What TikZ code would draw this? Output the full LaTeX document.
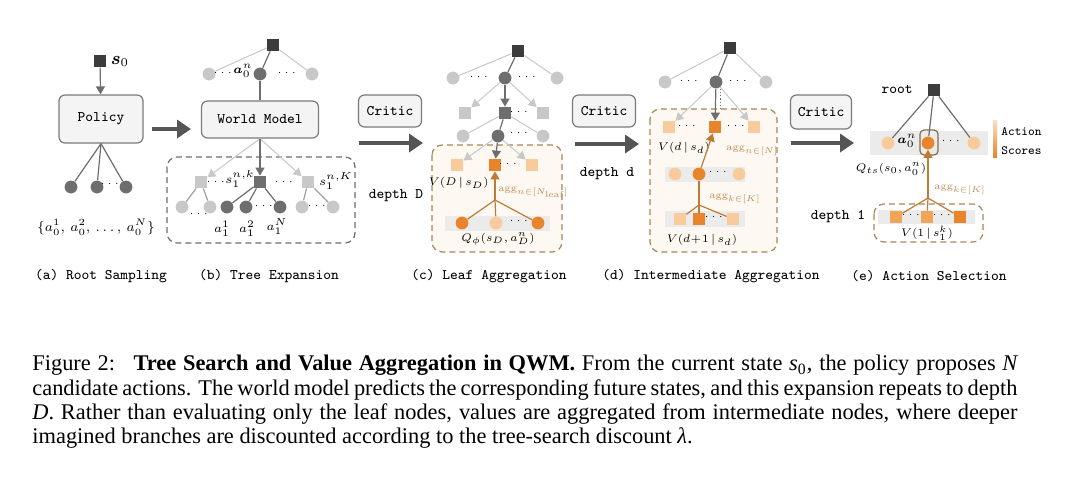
\documentclass[tikz,border=0pt]{standalone}
\usepackage{amsmath}
\usepackage{fontspec}
\newfontfamily\capfont{Liberation Serif}
\usetikzlibrary{arrows.meta,positioning}

\definecolor{dkgray}{HTML}{3C3C3C}
\definecolor{midgray}{HTML}{6E6E6E}
\definecolor{ltgray}{HTML}{C8C8C8}
\definecolor{boxfill}{HTML}{F4F4F4}
\definecolor{boxedge}{HTML}{7A7A7A}
\definecolor{bandgray}{HTML}{EBEBEB}
\definecolor{arrowgray}{HTML}{555555}
\definecolor{dkorange}{HTML}{E8842C}
\definecolor{mdorange}{HTML}{F0A458}
\definecolor{ltorange}{HTML}{F7CB9C}
\definecolor{tanline}{HTML}{A88558}
\definecolor{aggcol}{HTML}{C08A58}
\definecolor{oarrow}{HTML}{BF7A36}
\definecolor{creamfill}{HTML}{FDF9F2}

\tikzset{
  dsq/.style={rectangle, fill=dkgray, minimum size=6pt, inner sep=0pt},
  msq/.style={rectangle, fill=midgray, minimum size=6pt, inner sep=0pt},
  lsq/.style={rectangle, fill=ltgray, minimum size=6pt, inner sep=0pt},
  osq/.style={rectangle, fill=dkorange, minimum size=6pt, inner sep=0pt},
  mosq/.style={rectangle, fill=mdorange, minimum size=6pt, inner sep=0pt},
  losq/.style={rectangle, fill=ltorange, minimum size=6pt, inner sep=0pt},
  dcirc/.style={circle, fill=midgray, minimum size=6.4pt, inner sep=0pt},
  lcirc/.style={circle, fill=ltgray, minimum size=6.4pt, inner sep=0pt},
  ocirc/.style={circle, fill=dkorange, minimum size=6.4pt, inner sep=0pt},
  locirc/.style={circle, fill=ltorange, minimum size=6.4pt, inner sep=0pt},
  modbox/.style={draw=boxedge, fill=boxfill, rounded corners=3pt, line width=0.6pt,
    inner sep=0pt, font=\ttfamily\fontsize{7.3}{8.5}\selectfont},
  gline/.style={draw=midgray, line width=0.6pt},
  lline/.style={draw=ltgray, line width=0.5pt},
  garrow/.style={gline, -{Triangle[length=4pt,width=4.5pt]}},
  larrow/.style={lline, -{Triangle[length=4pt,width=4.5pt]}},
  oline/.style={draw=oarrow, line width=0.6pt},
  oarr/.style={oline, -{Triangle[length=4pt,width=4.5pt]}},
  bigarrow/.style={draw=arrowgray, line width=2.2pt, -{Triangle[length=7pt,width=9pt]}},
  dashbox/.style={draw=midgray, dash pattern=on 3pt off 2pt, line width=0.6pt, rounded corners=5pt},
  odashbox/.style={draw=tanline, fill=creamfill, dash pattern=on 3pt off 2pt, line width=0.6pt, rounded corners=5pt},
  ellip/.style={inner sep=0pt, font=\fontsize{5.5}{6}\selectfont},
  mlab/.style={inner sep=0pt, scale=0.92, font=\fontsize{6}{7}\selectfont},
  ttlab/.style={inner sep=0pt, font=\ttfamily\fontsize{7.3}{8.5}\selectfont},
  aggl/.style={text=aggcol, inner sep=0pt, anchor=west, scale=0.85, font=\fontsize{6}{7}\selectfont},
  capline/.style={anchor=base west, inner sep=0pt, font=\capfont\fontsize{11.2}{12.15}\selectfont},
}

\begin{document}
\begin{tikzpicture}[x=0.5pt, y=-0.5pt, font=\fontsize{7.3}{8.5}\selectfont]
  \fill[white] (0,0) rectangle (1080,479);
  \useasboundingbox (0,0) rectangle (1080,479);

  % (a) root sampling
  \node[dsq] (s0) at (100,61) {};
  \node[right=2pt of s0, inner sep=0pt, font=\fontsize{9}{11}\selectfont] (s0lab) {$\boldsymbol{s}_0$};
  \node[modbox, minimum width=42pt, minimum height=24pt] (pol) at (101,119) {Policy};
  \draw[garrow] (s0) -- (pol);
  \node[dcirc] (ra1) at (71,187) {};
  \node[dcirc] (ra2) at (97,187) {};
  \node[dcirc] (ra3) at (126,187) {};
  \node[ellip] (radots) at (111,184) {$\cdots$};
  \draw[gline] (pol.south) -- (ra1);
  \draw[gline] (pol.south) -- (ra2);
  \draw[gline] (pol.south) -- (ra3);
  \node[scale=0.95, font=\fontsize{7.3}{9}\selectfont] (aset) at (96,227) {$\{a_0^1,\,a_0^2,\,\ldots,\,a_0^N\}$};
  \coordinate (ab1) at (152,129);
  \coordinate (ab2) at (191,129);
  \draw[bigarrow] (ab1) -- (ab2);

  % (b) tree expansion
  \node[dsq] (broot) at (273,45) {};
  \node[lcirc] (b1l) at (209,74) {};
  \node[dcirc] (b1m) at (260,74) {};
  \node[lcirc] (b1r) at (312,74) {};
  \node[ellip] (b1d1) at (224,73) {$\cdots$};
  \node[ellip] (b1d2) at (288,73) {$\cdots$};
  \node[inner sep=0pt, font=\fontsize{6.5}{8}\selectfont] (ban) at (243,71) {$\boldsymbol{a}_0^n$};
  \draw[lline] (broot) -- (b1l);
  \draw[lline] (broot) -- (b1r);
  \draw[gline] (broot) -- (b1m);
  \node[modbox, minimum width=58.5pt, minimum height=18.5pt] (wm) at (260,119.5) {World Model};
  \draw[gline] (b1m) -- (wm);
  \draw[dashbox] (167,157) rectangle (355,243);
  \node[lsq] (b2l) at (201,182) {};
  \node[msq] (b2m) at (260,182) {};
  \node[lsq] (b2r) at (308,182) {};
  \draw[larrow] (wm.south) -- (b2l);
  \draw[larrow] (wm.south) -- (b2r);
  \draw[garrow] (wm.south) -- (b2m);
  \node[ellip] (b2d1) at (217,182) {$\cdots$};
  \node[ellip] (b2d2) at (285,182) {$\cdots$};
  \node[mlab, scale=1.1] (bsk) at (240,179) {$s_1^{n,k}$};
  \node[mlab, scale=1.1] (bsK) at (336,181) {$s_1^{n,K}$};
  \node[lcirc] (b3a) at (182,207) {};
  \node[lcirc] (b3b) at (210,207) {};
  \node[dcirc] (b3c) at (227,207) {};
  \node[dcirc] (b3d) at (246,207) {};
  \node[dcirc] (b3e) at (280,207) {};
  \node[lcirc] (b3f) at (302,207) {};
  \node[lcirc] (b3g) at (333,207) {};
  \node[ellip] (b3d1) at (200,214) {$\cdots$};
  \node[ellip] (b3d2) at (265,206) {$\cdots$};
  \node[ellip] (b3d3) at (318,206) {$\cdots$};
  \draw[gline, draw=ltgray!80!black] (b2l) -- (b3a);
  \draw[gline, draw=ltgray!80!black] (b2l) -- (b3b);
  \draw[gline] (b2m) -- (b3c);
  \draw[gline] (b2m) -- (b3d);
  \draw[gline] (b2m) -- (b3e);
  \draw[gline, draw=ltgray!80!black] (b2r) -- (b3f);
  \draw[gline, draw=ltgray!80!black] (b2r) -- (b3g);
  \node[inner sep=0pt, font=\fontsize{6.3}{7.5}\selectfont] (ba1) at (222,229) {$a_1^1$};
  \node[inner sep=0pt, font=\fontsize{6.3}{7.5}\selectfont] (ba2) at (247,229) {$a_1^2$};
  \node[inner sep=0pt, font=\fontsize{6.3}{7.5}\selectfont] (baN) at (277,227) {$a_1^N$};

  % critic -> (c)
  \node[modbox, minimum width=31.5pt, minimum height=16pt] (crc) at (390,111) {Critic};
  \coordinate (cb1) at (359,143);
  \coordinate (cb2) at (423,143);
  \draw[bigarrow] (cb1) -- (cb2);
  \node[ttlab] (depD) at (396,196) {depth D};

  % (c) leaf aggregation
  \node[dsq] (croot) at (518,51) {};
  \node[lcirc] (c1l) at (453,78) {};
  \node[dcirc] (c1m) at (505,78) {};
  \node[lcirc] (c1r) at (557,78) {};
  \node[ellip] (c1d1) at (480,77) {$\cdots$};
  \node[ellip] (c1d2) at (528,77) {$\cdots$};
  \draw[lline] (croot) -- (c1l);
  \draw[lline] (croot) -- (c1r);
  \draw[gline] (croot) -- (c1m);
  \node[lsq] (c2l) at (465,113) {};
  \node[msq] (c2m) at (505,113) {};
  \node[lsq] (c2r) at (543,113) {};
  \node[ellip] (c2d) at (520,112) {$\cdots$};
  \draw[larrow] (c1m) -- (c2l);
  \draw[larrow] (c1m) -- (c2r);
  \draw[garrow] (c1m) -- (c2m);
  \node[lcirc] (c3l) at (463,136) {};
  \node[dcirc] (c3m) at (498,136) {};
  \node[lcirc] (c3r) at (543,136) {};
  \node[ellip] (c3d) at (520,133) {$\cdots$};
  \draw[lline] (c2m) -- (c3l);
  \draw[lline] (c2m) -- (c3r);
  \draw[gline] (c2m) -- (c3m);
  \draw[odashbox] (432,145) rectangle (562,252);
  \node[losq] (c4l) at (457,165) {};
  \node[osq] (c4m) at (495,165) {};
  \node[losq] (c4r) at (532,165) {};
  \node[ellip] (c4d) at (509,164) {$\cdots$};
  \draw[larrow] (c3m) -- (c4l);
  \draw[larrow] (c3m) -- (c4r);
  \draw[garrow] (c3m) -- (c4m);
  \node[mlab, anchor=east] (cVD) at (489,183) {$V(D\,|\,s_D)$};
  \fill[bandgray] (445,216) rectangle (550,231);
  \node[ocirc] (c5l) at (462,223) {};
  \node[locirc] (c5m) at (496,223) {};
  \node[ocirc] (c5r) at (538,223) {};
  \node[ellip] (c5d) at (520,221) {$\cdots$};
  \coordinate (cj) at (495,200);
  \draw[oline] (cj) -- (c5l);
  \draw[oline] (cj) -- (c5m);
  \draw[oline] (cj) -- (c5r);
  \draw[oarr] (cj) -- (c4m);
  \node[aggl] (cagg) at (498,192) {$\mathrm{agg}_{n\in[N_{\mathrm{leaf}}]}$};
  \node[mlab] (cQ) at (498,239) {$Q_\phi(s_D,a_D^n)$};

  % critic -> (d)
  \node[modbox, minimum width=31.5pt, minimum height=16pt] (crd) at (604,111) {Critic};
  \coordinate (db1) at (575,144);
  \coordinate (db2) at (639,144);
  \draw[bigarrow] (db1) -- (db2);
  \node[ttlab] (depd) at (607,174) {depth d};

  % (d) intermediate aggregation
  \node[dsq] (droot) at (730,48) {};
  \node[lcirc] (d1l) at (665,82) {};
  \node[dcirc] (d1m) at (716,82) {};
  \node[lcirc] (d1r) at (766,82) {};
  \node[ellip] (d1d1) at (690,81) {$\cdots$};
  \node[ellip] (d1d2) at (739,81) {$\cdots$};
  \draw[lline] (droot) -- (d1l);
  \draw[lline] (droot) -- (d1r);
  \draw[gline] (droot) -- (d1m);
  \draw[odashbox] (650,109) rectangle (777,252);
  \node[losq] (d2l) at (669,127) {};
  \node[osq] (d2m) at (715,127) {};
  \node[losq] (d2r) at (754,127) {};
  \node[ellip] (d2d1) at (688,126) {$\cdots$};
  \node[ellip] (d2d2) at (737,126) {$\cdots$};
  \draw[larrow] (d1m) -- (d2l);
  \draw[larrow] (d1m) -- (d2r);
  \draw[garrow] (d1m) -- (d2m);
  \draw[gline, densely dotted, line width=0.5pt] ([xshift=2pt]d1m.south) -- ++(0,21);
  \node[mlab] (dVd) at (684,148) {$V(d\,|\,s_d)$};
  \fill[bandgray] (665,167) rectangle (745,182);
  \node[locirc] (d3l) at (675,174) {};
  \node[ocirc] (d3m) at (699,174) {};
  \node[locirc] (d3r) at (739,174) {};
  \node[ellip] (d3d) at (719,172) {$\cdots$};
  \draw[oarr] (d3m) -- (d2m);
  \coordinate (dj) at (699,205);
  \draw[oline] (d3m) -- (dj);
  \node[aggl] (dagg1) at (726,151) {$\mathrm{agg}_{n\in[N]}$};
  \fill[bandgray] (665,211) rectangle (745,227);
  \node[losq] (d4l) at (680,219) {};
  \node[osq] (d4m) at (699,219) {};
  \node[losq] (d4r) at (733,219) {};
  \node[ellip] (d4d) at (715,217) {$\cdots$};
  \draw[oline] (dj) -- (d4l);
  \draw[oline] (dj) -- (d4m);
  \draw[oline] (dj) -- (d4r);
  \node[aggl] (dagg2) at (709,199) {$\mathrm{agg}_{k\in[K]}$};
  \node[mlab] (dV1) at (702,240) {$V(d\!+\!1\,|\,s_d)$};

  % critic -> (e)
  \node[modbox, minimum width=30.5pt, minimum height=17pt] (cre) at (821,112) {Critic};
  \coordinate (eb1) at (791,143);
  \coordinate (eb2) at (854,143);
  \draw[bigarrow] (eb1) -- (eb2);
  \node[ttlab] (dep1) at (838,217) {depth 1};

  % (e) action selection
  \node[dsq] (eroot) at (934,90) {};
  \node[ttlab] (rootlab) at (897,89) {root};
  \fill[bandgray] (870,131) rectangle (988,155);
  \node[locirc] (e1l) at (888,143) {};
  \node[ocirc] (e1m) at (928,143) {};
  \node[locirc] (e1r) at (974,143) {};
  \node[ellip] (e1d) at (952,141) {$\cdots$};
  \node[inner sep=0pt, font=\fontsize{6.5}{8}\selectfont] (ean) at (907,141) {$\boldsymbol{a}_0^n$};
  \draw[draw=tanline!80!black, line width=0.6pt, rounded corners=2pt] (920,130) rectangle (938,155);
  \draw[gline] (eroot) -- (e1l);
  \draw[gline] (eroot) -- (e1m);
  \draw[gline] (eroot) -- (e1r);
  \shade[top color=ltorange!60, bottom color=dkorange] (993,120) rectangle (997,157);
  \node[ttlab, anchor=west, font=\ttfamily\fontsize{6.3}{7}\selectfont] (actlab) at (1001,132) {Action};
  \node[ttlab, anchor=west, font=\ttfamily\fontsize{6.3}{7}\selectfont] (scolab) at (1001,151) {Scores};
  \node[mlab] (eQ) at (891,169) {$Q_{ts}(s_0,a_0^n)$};
  \draw[dashbox, draw=tanline] (874,204) rectangle (983,242);
  \fill[bandgray] (878,210) rectangle (975,224);
  \node[mosq] (e2l) at (896,217) {};
  \node[mosq] (e2m) at (927,217) {};
  \node[osq] (e2r) at (960,217) {};
  \node[ellip] (e2d1) at (912,215) {$\cdots$};
  \node[ellip] (e2d2) at (943,215) {$\cdots$};
  \coordinate (ej) at (928,198);
  \draw[oline] (ej) -- (e2l);
  \draw[oline] (ej) -- (e2m);
  \draw[oline] (ej) -- (e2r);
  \draw[oarr] (ej) -- (e1m);
  \node[aggl] (eagg) at (934,190) {$\mathrm{agg}_{k\in[K]}$};
  \node[mlab] (eV) at (927,233) {$V(1\,|\,s_1^k)$};

  % sub-captions
  \node[ttlab] (capa) at (101,276) {(a) Root Sampling};
  \node[ttlab] (capb) at (269,276) {(b) Tree Expansion};
  \node[ttlab] (capc) at (489,276) {(c) Leaf Aggregation};
  \node[ttlab] (capd) at (711,276) {(d) Intermediate Aggregation};
  \node[ttlab] (cape) at (929,276) {(e) Action Selection};

  % figure caption
  \node[capline] (cl1) at (32,370.7) {\makebox[492.5pt][s]{Figure 2:\hspace{0.4em} \textbf{Tree Search and Value Aggregation in QWM.} From the current state {\itshape s}\textsubscript{0}, the policy proposes {\itshape N}}};
  \node[capline] (cl2) at (32,395) {\makebox[492.5pt][s]{candidate actions. The world model predicts the corresponding future states, and this expansion repeats to depth}};
  \node[capline] (cl3) at (32,419.3) {\makebox[492.5pt][s]{{\itshape D}. Rather than evaluating only the leaf nodes, values are aggregated from intermediate nodes, where deeper}};
  \node[capline] (cl4) at (32,443.7) {imagined branches are discounted according to the tree-search discount {\itshape λ}.};
\end{tikzpicture}
\end{document}
